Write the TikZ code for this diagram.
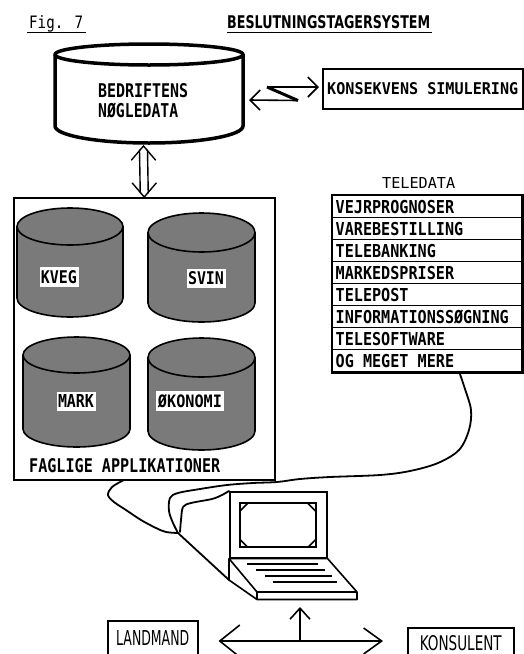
\documentclass[tikz,border=0pt]{standalone}
\usepackage{fontspec}
\usepackage{graphicx}
\usetikzlibrary{arrows.meta,calc}
\newfontfamily\monofont{DejaVu Sans Mono}
\newfontfamily\monostretch[FakeStretch=0.85]{DejaVu Sans Mono}
\newfontfamily\plainsans{DejaVu Sans}
\newcommand\rowfont{\monostretch\bfseries\fontsize{17.8pt}{20pt}\selectfont}
% text squeezed to a given ink width and cap height
\newcommand\fitw[3]{\resizebox{#1pt}{#2pt}{#3}}
% drum (cylinder): style, centre x, top-ellipse y, x radius, top y radius, bottom y, bottom y radius
\newcommand\drumshape[7]{%
  \path[#1] (#2-#4,#3) -- (#2-#4,#6)
     arc[start angle=180,end angle=0,x radius=#4,y radius=#7]
     -- (#2+#4,#3)
     arc[start angle=0,end angle=-180,x radius=#4,y radius=#5] -- cycle;
  \draw[#1,fill=none] (#2-#4,#3) arc[start angle=180,end angle=0,x radius=#4,y radius=#5];
}
\begin{document}
\begin{tikzpicture}[x=1pt,y=-1pt,
  lbl/.style={inner sep=0pt,anchor=base west},
  boxed/.style={draw,line width=1.5pt,inner sep=0pt,anchor=north west},
  drumshade/.style={fill=black!52,draw=black,line width=1.6pt},
  drumplain/.style={fill=white,draw=black,line width=3.5pt},
  tag/.style={fill=white,inner xsep=1.5pt,inner ysep=3pt,font=\monofont\bfseries},
  rowbox/.style={draw,line width=1.4pt,minimum width=189pt,minimum height=22pt,
                 anchor=north west,inner xsep=3pt,inner ysep=0pt,font=\rowfont},
  wire/.style={line width=1.8pt,line join=round,line cap=round},
  pen/.style={line width=1.6pt,line join=round},
  hollow/.style={line width=1.4pt,line cap=round},
  bolt/.style={line width=1.6pt},
  smallbarb/.style={-{Straight Barb[length=10pt,width=20pt,line width=1.6pt]}},
  upbarb/.style={-{Straight Barb[length=11pt,width=20pt,line width=1.6pt]}},
  leftbarb/.style={-{Straight Barb[length=20pt,width=32pt,line width=1.6pt]}},
  rightbarb/.style={-{Straight Barb[length=18pt,width=26pt,line width=1.6pt]}}]
\useasboundingbox (0,0) rectangle (524,654);
\clip (0,0) rectangle (524,654);

% ---- headings
\node[lbl,font=\monofont] (fig) at (29,28) {\fitw{54}{13}{Fig. 7}};
\draw[line width=1.8pt] (27,32.5) -- (86,32.5);
\node[lbl,font=\plainsans\bfseries] (title) at (227,28) {\fitw{203}{13}{BESLUTNINGSTAGERSYSTEM}};
\draw[line width=1.8pt] ([yshift=-4.5pt]title.base west) -- ([yshift=-4.5pt,xshift=2pt]title.base east);

% ---- key data store
\drumshape{drumplain}{149}{54.5}{94}{10.5}{126}{17}
\node[lbl,font=\monofont\bfseries] (bedr) at (98,97) {\fitw{90}{14}{BEDRIFTENS}};
\node[lbl,font=\monofont\bfseries] (nogle) at (98,117) {\fitw{80}{14.5}{NØGLEDATA}};
\coordinate (dbbot) at (143.5,146);
\coordinate (dbeast) at (249,100);

% ---- simulation box and zig-zag link
\node[boxed,minimum width=200pt,minimum height=40pt,font=\monofont\bfseries] (sim) at (322,68)
  {\fitw{191}{12}{KONSEKVENS SIMULERING}};
\coordinate (za) at (267,87);
\coordinate (zb) at (298,100.5);
\draw[bolt,smallbarb,shorten >=3pt] (za) -- (sim.west |- za);
\draw[line width=3pt] (za) -- (zb);
\draw[bolt,smallbarb] (zb) -- (dbeast);

% ---- applications frame
\node[boxed,minimum width=261pt,minimum height=282pt] (apps) at (13,197) {};
\node[lbl,font=\monofont\bfseries] (fagl) at (29,472) {\fitw{191}{14}{FAGLIGE APPLIKATIONER}};

% hollow two-way arrow between store and frame
\draw[hollow] ($(dbbot)+(-4,4)$) -- ($(apps.north)+(-4,-4)$);
\draw[hollow] ($(dbbot)+(4,4)$) -- ($(apps.north)+(4,-4)$);
\draw[hollow] ($(dbbot)+(-12,14)$) -- (dbbot) -- ($(dbbot)+(12,14)$);
\draw[hollow] ($(apps.north)+(-12,-14)$) -- (apps.north) -- ($(apps.north)+(12,-14)$);

% application drums
\drumshape{drumshade}{70}{226.5}{53}{18.5}{298}{19}
\drumshape{drumshade}{201.5}{232.5}{53.5}{19.5}{303}{19}
\drumshape{drumshade}{76.5}{355}{53.5}{18}{429}{18}
\drumshape{drumshade}{201.5}{357.5}{53.5}{19.5}{431}{19}
\node[tag] (kveg) at (59,277) {\fitw{36}{13}{KVEG}};
\node[tag] (svin) at (206,278.5) {\fitw{36}{13}{SVIN}};
\node[tag] (mark) at (76,401) {\fitw{36}{13}{MARK}};
\node[tag] (okon) at (190,401) {\fitw{64}{13}{ØKONOMI}};

% ---- teledata list
\node[lbl,font=\monofont] (tele) at (382,188) {\fitw{73}{11}{TELEDATA}};
\foreach \t [count=\i] in {VEJRPROGNOSER,VAREBESTILLING,TELEBANKING,MARKEDSPRISER,
    TELEPOST,INFORMATIONSSØGNING,TELESOFTWARE,OG MEGET MERE}
  \node[rowbox] (r\i) at (332,{195+22*(\i-1)}) {\makebox[183pt][l]{\t}};
\draw[line width=2.2pt] (r1.north west) rectangle (r8.south east);

% ---- computer
\node[boxed,line width=1.6pt,minimum width=97pt,minimum height=66pt] (lid) at (229,491) {};
\node[boxed,line width=1.6pt,minimum width=76pt,minimum height=44pt] (screen) at (239,502) {};
\draw[pen] ($(screen.north west)+(1,9)$) -- ($(screen.north west)+(9,1)$);
\draw[pen] ($(screen.north east)+(-9,1)$) -- ($(screen.north east)+(-1,9)$);
\draw[pen] ($(screen.south west)+(1,-8)$) -- ($(screen.south west)+(8,-1)$);
\draw[pen] ($(screen.south east)+(-8,-1)$) -- ($(screen.south east)+(-1,-8)$);
\coordinate (kbfr) at (257,592);
\coordinate (kbfrr) at (357,592);
\coordinate (basecorner) at (229,580);
\coordinate (basefront) at (300,600);
\draw[pen] (lid.south west) -- (lid.south east) -- (kbfrr) -- (kbfr) -- cycle;
\draw[pen] (lid.south west) -- (basecorner) -- (257,599.5) -- (357,599.5) -- (kbfrr);
\draw[pen] (kbfr) -- (257,599.5);
\foreach \ya/\xa/\xb in {564/247/318,570/256/325,576/265/332,582/273/337}
  \draw[line width=2.2pt] (\xa,\ya) -- (\xb,\ya);

% ---- cables
\coordinate (tdout) at ([xshift=-63pt]r8.south east);
\coordinate (appout) at ([xshift=110pt]apps.south west);
\coordinate (join) at (178,533);
\draw[wire] plot[smooth,tension=0.55] coordinates {(tdout) (465,389) (471,410) (469,430)
  (459,450) (438,463) (410,471) (380,475) (330,477) (300,479) (277,482) (253,483)
  (227,485) (200,489) (178,493) (170,498) (169,511) (173,523) (join)};
\draw[wire] plot[smooth,tension=0.55] coordinates {(appout) (112,487) (108,495) (114,502)
  (126,510) (141,520) (156,528) (166,532) (join)};
\draw[wire] plot[smooth,tension=0.5] coordinates {(lid.north west) (222,495) (212,499)
  (191,503) (183,507) (181,520) (180,532)};
\draw[wire] (join) -- (basecorner);

% ---- people
\node[boxed,minimum width=90pt,minimum height=35pt,font=\plainsans] (land) at (107,620)
  {\fitw{73}{15}{LANDMAND}};
\node[boxed,minimum width=106pt,minimum height=31pt,font=\plainsans] (kons) at (407,627)
  {\fitw{82}{15}{KONSULENT}};
\coordinate (hub) at (300,641);
\draw[line width=1.6pt,upbarb,shorten >=7pt] (hub) -- (basefront);
\draw[line width=1.6pt,leftbarb,shorten >=20pt] (hub) -- (land.east |- hub);
\draw[line width=1.6pt,rightbarb,shorten >=24pt] (hub) -- (kons.west |- hub);
\end{tikzpicture}
\end{document}
